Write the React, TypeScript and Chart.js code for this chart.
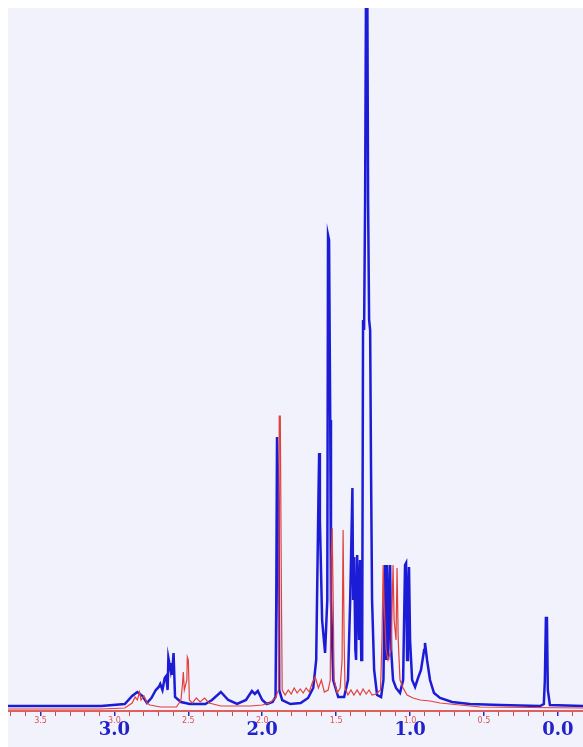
import React, { useEffect, useRef } from "react";
import { Chart, registerables } from "chart.js";
Chart.register(...registerables);

// chemical shift (ppm) and intensity of the blue spectrum
const blueShift = [
  3.72, 3.36, 3.09, 2.93, 2.88, 2.845, 2.81, 2.78, 2.75, 2.72, 2.70, 2.69, 2.675, 2.66, 2.65, 2.64,
  2.635, 2.62, 2.615, 2.61, 2.60, 2.59, 2.55, 2.49, 2.385, 2.34, 2.28, 2.23, 2.17, 2.11, 2.07, 2.05,
  2.03, 2.0, 1.97, 1.93, 1.91, 1.905, 1.90, 1.89, 1.885, 1.865, 1.81, 1.74, 1.69, 1.655, 1.635, 1.62,
  1.615, 1.61, 1.595, 1.575, 1.56, 1.555, 1.548, 1.54, 1.535, 1.52, 1.486, 1.446, 1.42, 1.405, 1.39,
  1.385, 1.378, 1.37, 1.365, 1.358, 1.35, 1.345, 1.338, 1.33, 1.324, 1.318, 1.311, 1.304, 1.297, 1.29,
  1.284, 1.277, 1.27, 1.264, 1.257, 1.243, 1.223, 1.196, 1.18, 1.169, 1.162, 1.155, 1.149, 1.135,
  1.128, 1.115, 1.095, 1.068, 1.047, 1.034, 1.027, 1.02, 1.014, 1.007, 1.0, 0.986, 0.966, 0.946,
  0.926, 0.905, 0.899, 0.885, 0.865, 0.838, 0.797, 0.716, 0.595, 0.39, 0.12, 0.095, 0.088, 0.081,
  0.074, 0.068, 0.054, -0.17,
];
const blueIntensity = [
  5, 5, 5, 7, 15, 19, 15, 8, 13, 21, 24, 27, 21, 33, 35, 21,
  53, 41, 48, 36, 58, 14, 9, 7, 7, 11, 19, 11, 7, 11, 20, 17,
  20, 11, 7, 9, 14, 111, 274, 211, 21, 11, 7, 8, 13, 23, 51, 211,
  258, 191, 91, 58, 111, 476, 471, 291, 111, 31, 14, 14, 31, 111, 223,
  111, 154, 61, 51, 156, 111, 71, 151, 51, 51, 391, 381, 511, 760, 760,
  511, 391, 381, 241, 111, 41, 16, 14, 31, 146, 51, 146, 51, 146,
  61, 31, 23, 18, 31, 146, 148, 51, 111, 144, 71, 31, 24, 33,
  41, 61, 68, 51, 31, 18, 13, 9, 7, 6, 5, 7, 31, 93,
  93, 21, 6, 5,
];

// chemical shift (ppm) and intensity of the red spectrum
const redShift = [
  3.72, 3.09, 2.93, 2.88, 2.86, 2.845, 2.83, 2.82, 2.80, 2.78, 2.76, 2.69, 2.58, 2.55, 2.54, 2.534,
  2.527, 2.51, 2.507, 2.50, 2.493, 2.473, 2.446, 2.42, 2.39, 2.36, 2.28, 2.08, 2.0, 1.95, 1.91, 1.89,
  1.885, 1.878, 1.87, 1.865, 1.845, 1.824, 1.804, 1.784, 1.764, 1.743, 1.723, 1.703, 1.682, 1.662,
  1.642, 1.62, 1.60, 1.58, 1.554, 1.54, 1.534, 1.527, 1.52, 1.514, 1.493, 1.473, 1.46, 1.453, 1.446,
  1.44, 1.42, 1.40, 1.38, 1.358, 1.338, 1.318, 1.297, 1.277, 1.257, 1.23, 1.20, 1.19, 1.182, 1.176,
  1.162, 1.149, 1.128, 1.115, 1.108, 1.095, 1.088, 1.08, 1.068, 1.047, 1.02, 0.98, 0.932, 0.865,
  0.797, 0.662, 0.527, -0.17,
];
const redIntensity = [
  2, 2, 3, 8, 14, 11, 19, 11, 15, 8, 6, 4, 4, 11, 26, 39,
  21, 31, 54, 51, 11, 8, 13, 9, 13, 8, 5, 5, 6, 8, 13, 21,
  295, 295, 111, 21, 16, 21, 17, 23, 18, 22, 18, 23, 19, 28,
  34, 23, 31, 19, 21, 31, 151, 183, 111, 31, 18, 23, 51, 181, 71,
  23, 16, 21, 16, 21, 16, 22, 17, 21, 16, 17, 21, 71, 146, 111,
  61, 51, 61, 146, 91, 71, 143, 71, 31, 23, 16, 13, 11, 10,
  8, 6, 4, 3,
];

const redTickLabels = ["3.5", "3.0", "2.5", "2.0", "1.5", "1.0", "0.5"];
const blueTickLabels = ["3.0", "2.0", "1.0", "0.0"];

const X_MIN = -0.17;
const X_MAX = 3.72;

const fmt = (v: number) => (Math.abs(v) < 1e-9 ? 0 : v).toFixed(1);

export default function App() {
  const ref = useRef<HTMLCanvasElement | null>(null);

  useEffect(() => {
    if (!ref.current) return;
    const isStep = (v: number, step: number) =>
      Math.abs(v / step - Math.round(v / step)) < 1e-6;
    const chart = new Chart(ref.current, {
      type: "line",
      data: {
        datasets: [
          {
            label: "blue",
            data: blueShift.map((x, i) => ({ x, y: blueIntensity[i] })),
            borderColor: "#1c1cd6",
            borderWidth: 2.5,
            pointRadius: 0,
            tension: 0,
            order: 1,
          },
          {
            label: "red",
            data: redShift.map((x, i) => ({ x, y: redIntensity[i] })),
            borderColor: "#e2403a",
            borderWidth: 1.2,
            pointRadius: 0,
            tension: 0,
            order: 0,
          },
        ],
      },
      options: {
        responsive: false,
        animation: false,
        events: [],
        layout: { padding: 0 },
        plugins: { legend: { display: false }, tooltip: { enabled: false } },
        scales: {
          x: {
            type: "linear",
            position: "bottom",
            reverse: true,
            min: X_MIN,
            max: X_MAX,
            afterBuildTicks: (s: any) => {
              s.ticks = s.ticks.filter((t: any) => isStep(t.value, 0.1));
            },
            afterFit: (s: any) => {
              s.height = 14;
            },
            ticks: {
              stepSize: 0.1,
              includeBounds: false,
              autoSkip: false,
              maxRotation: 0,
              padding: 0,
              color: "#e05050",
              font: { size: 8, family: "DejaVu Sans" },
              callback: (v: any) => {
                const s = fmt(Number(v));
                return redTickLabels.includes(s) ? s : "";
              },
            },
            grid: {
              display: true,
              drawOnChartArea: false,
              drawTicks: true,
              tickLength: 5,
              color: (c: any) =>
                c.tick && isStep(c.tick.value, 0.5) ? "#2a2ac8" : "#d84848",
              lineWidth: (c: any) => (c.tick && isStep(c.tick.value, 0.5) ? 1.5 : 1),
            },
            border: { display: true, color: "#e06060", width: 2 },
          },
          x2: {
            type: "linear",
            position: "bottom",
            reverse: true,
            min: X_MIN,
            max: X_MAX,
            afterBuildTicks: (s: any) => {
              s.ticks = s.ticks.filter((t: any) => isStep(t.value, 1));
            },
            afterFit: (s: any) => {
              s.height = 22;
            },
            ticks: {
              stepSize: 1,
              includeBounds: false,
              autoSkip: false,
              maxRotation: 0,
              mirror: true,
              padding: -16,
              color: "#2222cc",
              font: { size: 18, weight: "bold", family: "DejaVu Serif" },
              callback: (v: any) => {
                const s = fmt(Number(v));
                return blueTickLabels.includes(s) ? s : "";
              },
            },
            grid: { display: false, drawTicks: false },
            border: { display: false },
          },
          y: {
            display: false,
            min: 0,
            max: 703,
          },
        },
      },
    });
    return () => chart.destroy();
  }, []);

  return (
    <div
      style={{
        position: "fixed",
        left: 8,
        top: 8,
        width: 575,
        height: 739,
        background: "#f1f2fc",
      }}
    >
      <canvas ref={ref} width={575} height={739} style={{ display: "block" }} />
    </div>
  );
}
